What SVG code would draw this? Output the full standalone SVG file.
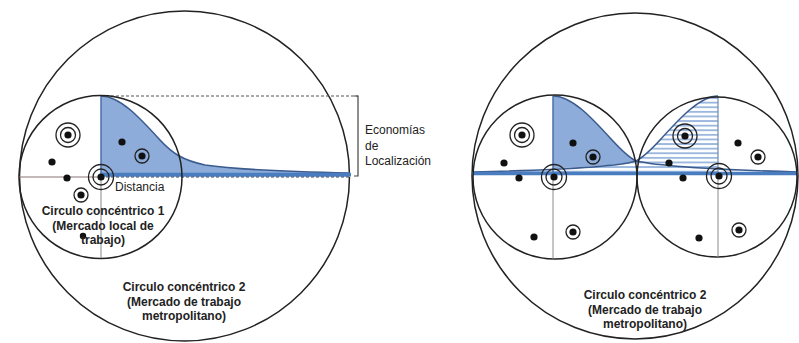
<svg xmlns="http://www.w3.org/2000/svg" width="799" height="343" viewBox="0 0 799 343">
<defs>
<pattern id="stripes" patternUnits="userSpaceOnUse" x="0" y="0.5" width="10" height="4.6">
<rect x="0" y="0" width="10" height="4.6" fill="#ffffff"/>
<rect x="0" y="0" width="10" height="1.9" fill="#9cb8df"/>
</pattern>
</defs>
<style>
.circ{fill:none;stroke:#222;stroke-width:1.5}
.axis{stroke:#8a8a8a;stroke-width:1;fill:none}
.blue{fill:#8dacd9;stroke:none}
.curve{fill:none;stroke:#3b5b8f;stroke-width:1.6}
.thick{stroke:#4a7cc0;stroke-width:3.5;fill:none}
.dot{fill:#111}
.ring{fill:none;stroke:#222;stroke-width:1.3}
.lbl{font-family:"Liberation Sans",Arial,sans-serif;font-size:12px;fill:#222}
.bold{font-family:"Liberation Sans",Arial,sans-serif;font-size:12px;font-weight:bold;fill:#222;text-anchor:middle}
</style>
<rect width="799" height="343" fill="#ffffff"/>

<!-- LEFT DIAGRAM -->
<g id="left-diagram">
<g id="left-outer-circle"><circle class="circ" cx="184.5" cy="176" r="165"/></g>
<g id="left-economy-area">
<path class="blue" d="M101,96 C120,96 140,118 160,140 C172,153 182,160 205,165 C240,170 300,172 350,173 L350,177 L101,177 Z"/>
<path class="curve" d="M101,96 C120,96 140,118 160,140 C172,153 182,160 205,165 C240,170 300,172 350,173"/>
<line x1="101" y1="96" x2="101" y2="177" stroke="#4a6fa8" stroke-width="1.5"/>
<line class="thick" x1="101" y1="174.5" x2="351" y2="174.5"/>
<line x1="101" y1="177" x2="351" y2="177" stroke="#3a4a66" stroke-width="1" stroke-dasharray="3,2"/>
<line x1="101" y1="96" x2="358" y2="96" stroke="#555" stroke-width="1" stroke-dasharray="3,2"/>
<path d="M354,96 L358,96 L358,176 L354,176" fill="none" stroke="#444" stroke-width="1.2"/>
</g>
<g id="left-inner-circle">
<circle class="circ" cx="100.5" cy="177" r="81.5"/>
<line class="axis" x1="101" y1="177" x2="101" y2="258"/>
<line x1="19" y1="177" x2="101" y2="177" stroke="#8a7474" stroke-width="1"/>
</g>
<g id="left-points">
<circle class="ring" cx="68" cy="135" r="12"/><circle class="ring" cx="68" cy="135" r="7.5"/><circle class="dot" cx="68" cy="135" r="3.6"/>
<circle class="dot" cx="52" cy="162" r="3.6"/>
<circle class="dot" cx="67" cy="178" r="3.6"/>
<circle class="ring" cx="101" cy="177" r="12.5"/><circle class="ring" cx="101" cy="177" r="8"/><circle class="dot" cx="101" cy="177" r="3.6"/>
<circle class="ring" cx="81" cy="195" r="7"/><circle class="dot" cx="81" cy="195" r="3.6"/>
<circle class="dot" cx="122" cy="142" r="3.6"/>
<circle class="ring" cx="142" cy="156" r="7"/><circle class="dot" cx="142" cy="156" r="3.6"/>
<circle class="dot" cx="83" cy="236" r="3.2"/>
</g>
<g id="left-labels">
<text class="lbl" x="115" y="191">Distancia</text>
<text class="lbl" x="365" y="134">Economías</text>
<text class="lbl" x="365" y="150">de</text>
<text class="lbl" x="365" y="165">Localización</text>
<text class="bold" x="103" y="215">Circulo concéntrico 1</text>
<text class="bold" x="103" y="229.5">(Mercado local de</text>
<text class="bold" x="103" y="244">trabajo)</text>
<text class="bold" x="184" y="291">Circulo concéntrico 2</text>
<text class="bold" x="184" y="305.5">(Mercado de trabajo</text>
<text class="bold" x="184" y="320">metropolitano)</text>
</g>
</g>

<!-- RIGHT DIAGRAM -->
<g id="right-diagram">
<g id="right-outer-circle"><circle class="circ" cx="635" cy="176" r="163"/></g>
<g id="right-economy-areas">
<path fill="url(#stripes)" d="M718,96 C700,96 680,118 660,140 C648,153 642,158 636,161 C620,166 560,170 473,172 L473,174 L718,174 Z"/>
<path class="blue" d="M553,96 C572,96 592,118 612,140 C624,153 630,158 636,161 C625,164 595,167 553,168.5 Z"/>
<path class="curve" d="M718,96 C700,96 680,118 660,140 C648,153 642,158 636,161 C620,166 560,170 473,172"/>
<path class="curve" d="M553,96 C572,96 592,118 612,140 C624,153 630,158 636,161 C660,166 720,170 798,172"/>
<line x1="553" y1="96" x2="553" y2="172" stroke="#4a6fa8" stroke-width="1.5"/>
<line x1="718" y1="96" x2="718" y2="172" stroke="#6f88b4" stroke-width="1.2"/>
<line class="thick" x1="472" y1="173.5" x2="798" y2="173.5"/>
</g>
<g id="right-inner-circle-1">
<circle class="circ" cx="555" cy="177" r="82"/>
<line class="axis" x1="553" y1="175" x2="553" y2="259"/>
</g>
<g id="right-inner-circle-2">
<circle class="circ" cx="717" cy="177" r="80"/>
<line class="axis" x1="718" y1="175" x2="718" y2="257"/>
</g>
<g id="right-points-1">
<circle class="ring" cx="522" cy="135" r="12"/><circle class="ring" cx="522" cy="135" r="7.5"/><circle class="dot" cx="522" cy="135" r="3.6"/>
<circle class="dot" cx="504" cy="163" r="3.6"/>
<circle class="dot" cx="519" cy="178" r="3.6"/>
<circle class="ring" cx="554" cy="177" r="12.5"/><circle class="ring" cx="554" cy="177" r="8"/><circle class="dot" cx="554" cy="177" r="3.6"/>
<circle class="dot" cx="573" cy="143" r="3.6"/>
<circle class="ring" cx="593" cy="157" r="7"/><circle class="dot" cx="593" cy="157" r="3.6"/>
<circle class="dot" cx="534" cy="237" r="3.6"/>
<circle class="ring" cx="573" cy="232" r="7"/><circle class="dot" cx="573" cy="232" r="3.6"/>
</g>
<g id="right-points-2">
<circle class="ring" cx="685" cy="136" r="12"/><circle class="ring" cx="685" cy="136" r="7.5"/><circle class="dot" cx="685" cy="136" r="3.6"/>
<circle class="dot" cx="669" cy="163" r="3.6"/>
<circle class="dot" cx="683" cy="178" r="3.6"/>
<circle class="ring" cx="719" cy="176" r="12.5"/><circle class="ring" cx="719" cy="176" r="8"/><circle class="dot" cx="719" cy="176" r="3.6"/>
<circle class="dot" cx="738" cy="143" r="3.6"/>
<circle class="ring" cx="758" cy="157" r="7"/><circle class="dot" cx="758" cy="157" r="3.6"/>
<circle class="dot" cx="699" cy="238" r="3.6"/>
<circle class="ring" cx="739" cy="230" r="7"/><circle class="dot" cx="739" cy="230" r="3.6"/>
</g>
<g id="right-labels">
<text class="bold" x="645" y="299">Circulo concéntrico 2</text>
<text class="bold" x="645" y="313.5">(Mercado de trabajo</text>
<text class="bold" x="645" y="328">metropolitano)</text>
</g>
</g>
</svg>
